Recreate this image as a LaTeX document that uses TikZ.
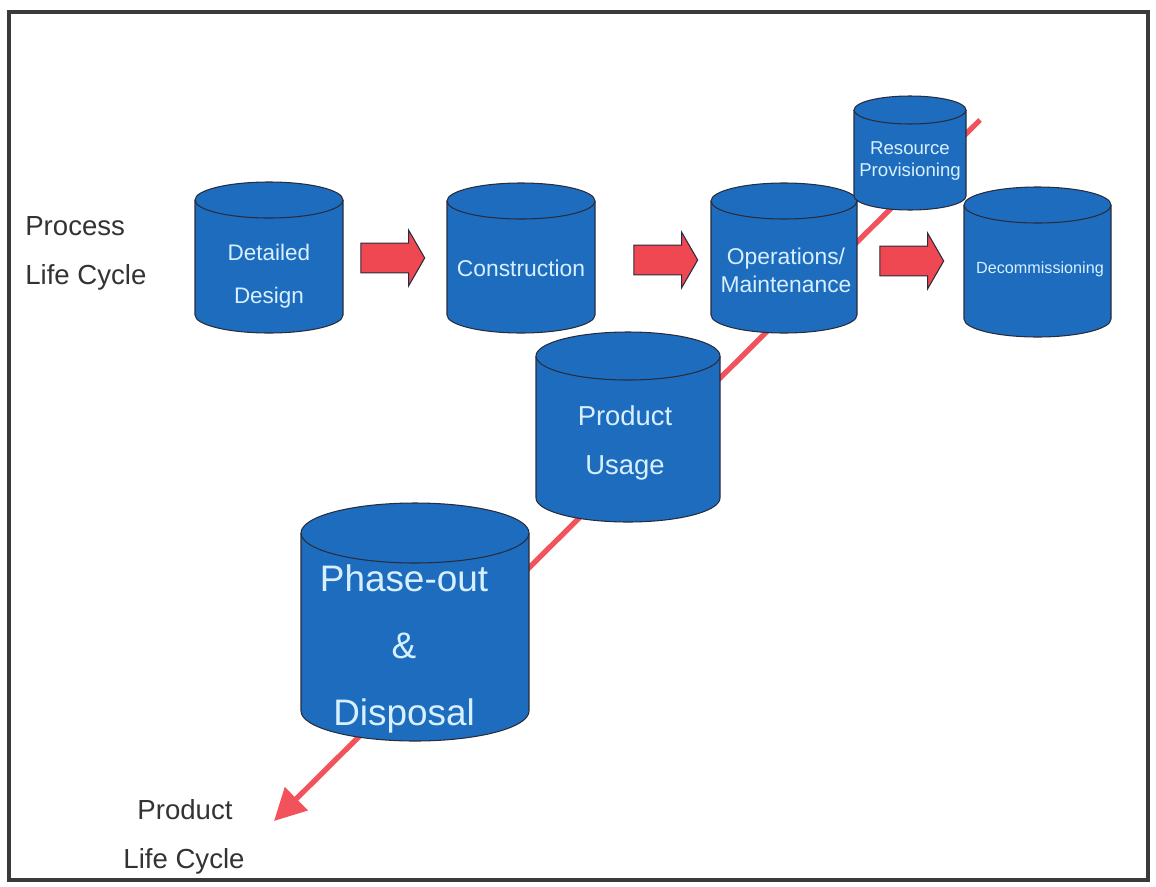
\documentclass[tikz,border=0pt]{standalone}
\usepackage{fontspec}
\setmainfont{Liberation Sans}
\usetikzlibrary{arrows.meta,shapes.arrows}

\definecolor{drumblue}{RGB}{30,108,190}
\definecolor{drumedge}{RGB}{40,44,60}
\definecolor{drumtext}{RGB}{215,240,255}
\definecolor{blockred}{RGB}{240,72,82}
\definecolor{linered}{RGB}{242,82,92}
\definecolor{framegray}{RGB}{58,58,58}

\begin{document}
\begin{tikzpicture}[x=0.02cm, y=-0.02cm,
    drum/.style={fill=drumblue, draw=drumedge, line width=0.6pt},
    lbl/.style={text=drumtext, align=center, inner sep=0pt},
    side/.style={text=black!80, inner sep=0pt},
    blockarrow/.style={single arrow, fill=blockred, draw=drumedge, line width=0.6pt,
        inner xsep=0pt, inner ysep=8.2pt, single arrow head extend=7.4pt,
        single arrow tip angle=120, minimum height=36.3pt}]
    \useasboundingbox (0,0) rectangle (1156,886);
    \draw [framegray, line width=2pt] (9,12) rectangle (1148,880);

    % product life cycle axis, behind the drums
    \coordinate (axisstart) at (980,120);
    \coordinate (axisend) at (274,821);
    \draw [linered, line width=3pt, -{Triangle[length=18pt, width=18pt]}] (axisstart) -- (axisend);

    % drums: centre x / top / bottom / x radius / y radius
    \foreach \cx/\ct/\cb/\rx/\ry in {269/182/333/74/18, 521/183/333/74/18, 784/183/333/73/18,
                                    910/96/210/56/14, 1037.5/187/337/73.5/18,
                                    628/332/522/92/24, 415/503/741/114/30}
    {
        \fill [drumblue] (\cx-\rx,\ct+\ry) -- (\cx-\rx,\cb-\ry)
            arc[start angle=180, end angle=0, x radius=\rx, y radius=\ry] -- (\cx+\rx,\ct+\ry) -- cycle;
        \draw [drumedge, line width=0.6pt] (\cx-\rx,\ct+\ry) -- (\cx-\rx,\cb-\ry)
            arc[start angle=180, end angle=0, x radius=\rx, y radius=\ry] -- (\cx+\rx,\ct+\ry);
        \draw [drum] (\cx,\ct+\ry) ellipse[x radius=\rx, y radius=\ry];
    }

    \node [blockarrow] (arr1) at (388.5,258) {};
    \node [blockarrow] (arr2) at (661.5,260) {};
    \node [blockarrow] (arr3) at (907.5,261) {};

    \node [lbl, font={\fontsize{12.8}{24.4}\selectfont}] (design) at (269,276) {Detailed\\Design};
    \node [lbl, font={\fontsize{13}{16}\selectfont}] (construction) at (521,268) {Construction};
    \node [lbl, font={\fontsize{13}{16}\selectfont}] (operations) at (786,270) {Operations/\\Maintenance};
    \node [lbl, font={\fontsize{10.6}{13}\selectfont}] (resource) at (910,161) {Resource\\Provisioning};
    \node [lbl, font={\fontsize{9.2}{11}\selectfont}] (decom) at (1040,269) {Decommissioning};
    \node [lbl, font={\fontsize{15.6}{28.3}\selectfont}] (usage) at (625,443) {Product\\Usage};
    \node [lbl, font={\fontsize{21}{38}\selectfont}] (phaseout) at (404,649) {Phase-out\\\&\\Disposal};

    \node [side, anchor=west, font={\fontsize{15.7}{18}\selectfont}] (process) at (25,226) {Process};
    \node [side, anchor=west, font={\fontsize{15.7}{18}\selectfont}] (processlc) at (25,277) {Life Cycle};
    \node [side, font={\fontsize{15.7}{18}\selectfont}] (product) at (185,810) {Product};
    \node [side, font={\fontsize{15.7}{18}\selectfont}] (productlc) at (184,861) {Life Cycle};
\end{tikzpicture}
\end{document}
